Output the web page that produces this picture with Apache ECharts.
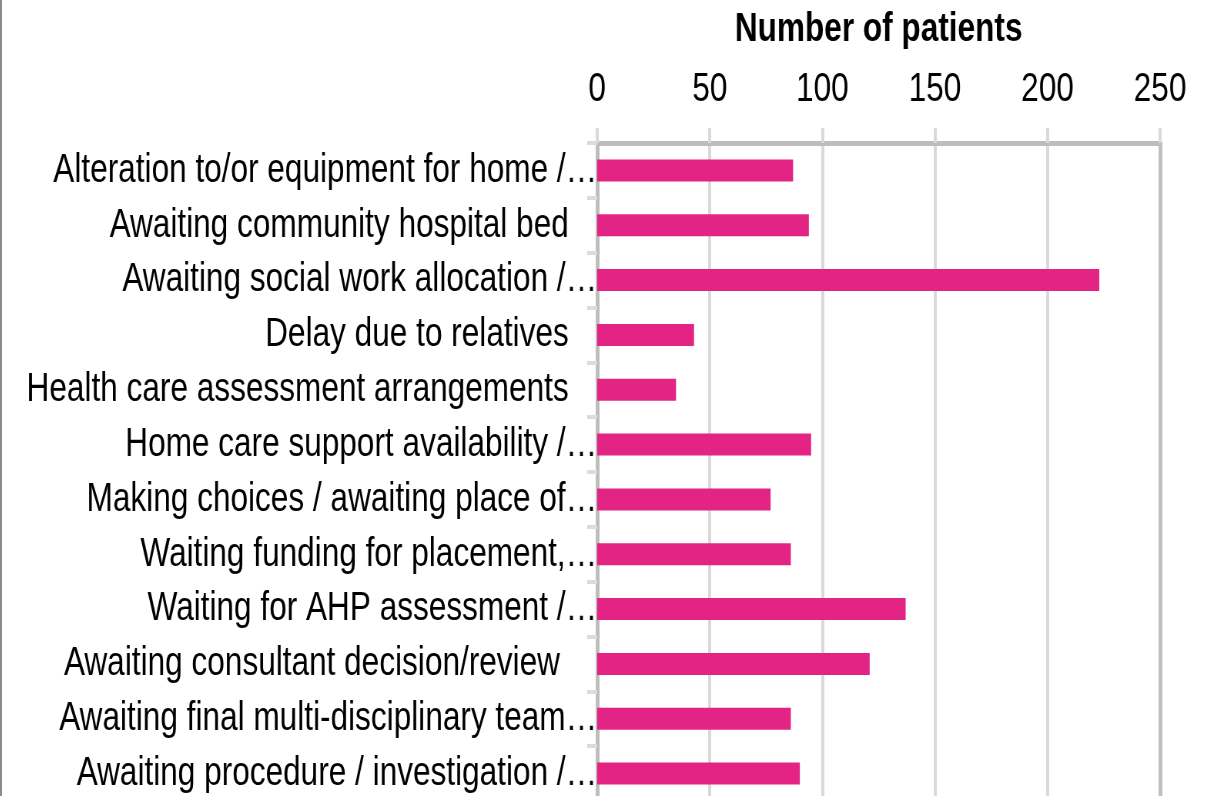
<!DOCTYPE html>
<html lang="en">
<head>
    <meta charset="UTF-8">
    <title>Number of patients</title>
    <script src="https://cdn.jsdelivr.net/npm/echarts@6/dist/echarts.min.js"></script>
    <style>
        html, body { margin: 0; padding: 0; background: #fff; overflow: hidden; }
        #frame { width: 1213px; height: 796px; border-left: 2px solid #8c8c8c; overflow: hidden; }
        /* no narrow font installed, so the chart is drawn wide and squeezed to look like Arial Narrow */
        #main { width: 1578px; height: 796px; transform: scaleX(0.77); transform-origin: 0 0; }
    </style>
</head>
<body>
<div id="frame"><div id="main"></div></div>
<script>
    // categories top to bottom, as shown (long ones are cut in the picture)
    var reasons = [
        'Alteration to/or equipment for home /…',
        'Awaiting community hospital bed',
        'Awaiting social work allocation /…',
        'Delay due to relatives',
        'Health care assessment arrangements',
        'Home care support availability /…',
        'Making choices / awaiting place of…',
        'Waiting funding for placement,…',
        'Waiting for AHP assessment /…',
        'Awaiting consultant decision/review ',
        'Awaiting final multi-disciplinary team…',
        'Awaiting procedure / investigation /…'
    ];
    var patients = [87, 94, 223, 43, 35, 95, 77, 86, 137, 121, 86, 90];
    var xTicks = [0, 50, 100, 150, 200, 250];

    var myChart = echarts.init(document.getElementById('main'));
    var font = '"Liberation Sans", Arial, sans-serif';

    var option = {
        animation: false,
        grid: { left: 773, right: 74, top: 143, height: 658, outerBoundsMode: 'none', containLabel: false },
        xAxis: {
            type: 'value',
            position: 'top',
            min: xTicks[0],
            max: xTicks[xTicks.length - 1],
            interval: xTicks[1] - xTicks[0],
            name: 'Number of patients',
            nameLocation: 'middle',
            nameGap: 93,
            nameTextStyle: { fontFamily: font, fontSize: 41, fontWeight: 'bold', color: '#000' },
            axisLine: { show: true, lineStyle: { color: '#bdbdbd', width: 5 } },
            axisTick: { show: true, length: 15, lineStyle: { color: '#d9d9d9', width: 4 } },
            axisLabel: { margin: 33, fontFamily: font, fontSize: 41, color: '#000' },
            splitLine: { show: true, lineStyle: { color: '#d9d9d9', width: 4 } }
        },
        yAxis: [{
            type: 'category',
            inverse: true,
            data: reasons,
            axisLine: { show: true, lineStyle: { color: '#bdbdbd', width: 5 } },
            axisTick: { show: true, length: 13, lineStyle: { color: '#dcdcdc', width: 4 } },
            axisLabel: {
                margin: 0,
                fontFamily: font,
                fontSize: 41,
                color: '#000',
                formatter: function (v) {
                    return v.charAt(v.length - 1) === '…' ? v : '{p|' + v + '}';
                },
                rich: { p: { fontFamily: font, fontSize: 41, color: '#000', padding: [0, 37, 0, 0] } }
            }
        }, {
            type: 'category',
            inverse: true,
            position: 'right',
            data: reasons,
            axisLine: { show: true, lineStyle: { color: '#bfbfbf', width: 5 } },
            axisTick: { show: false },
            axisLabel: { show: false }
        }],
        series: [{
            type: 'bar',
            data: patients,
            barWidth: 22,
            itemStyle: { color: '#e42485' }
        }]
    };

    myChart.setOption(option);
</script>
</body>
</html>
